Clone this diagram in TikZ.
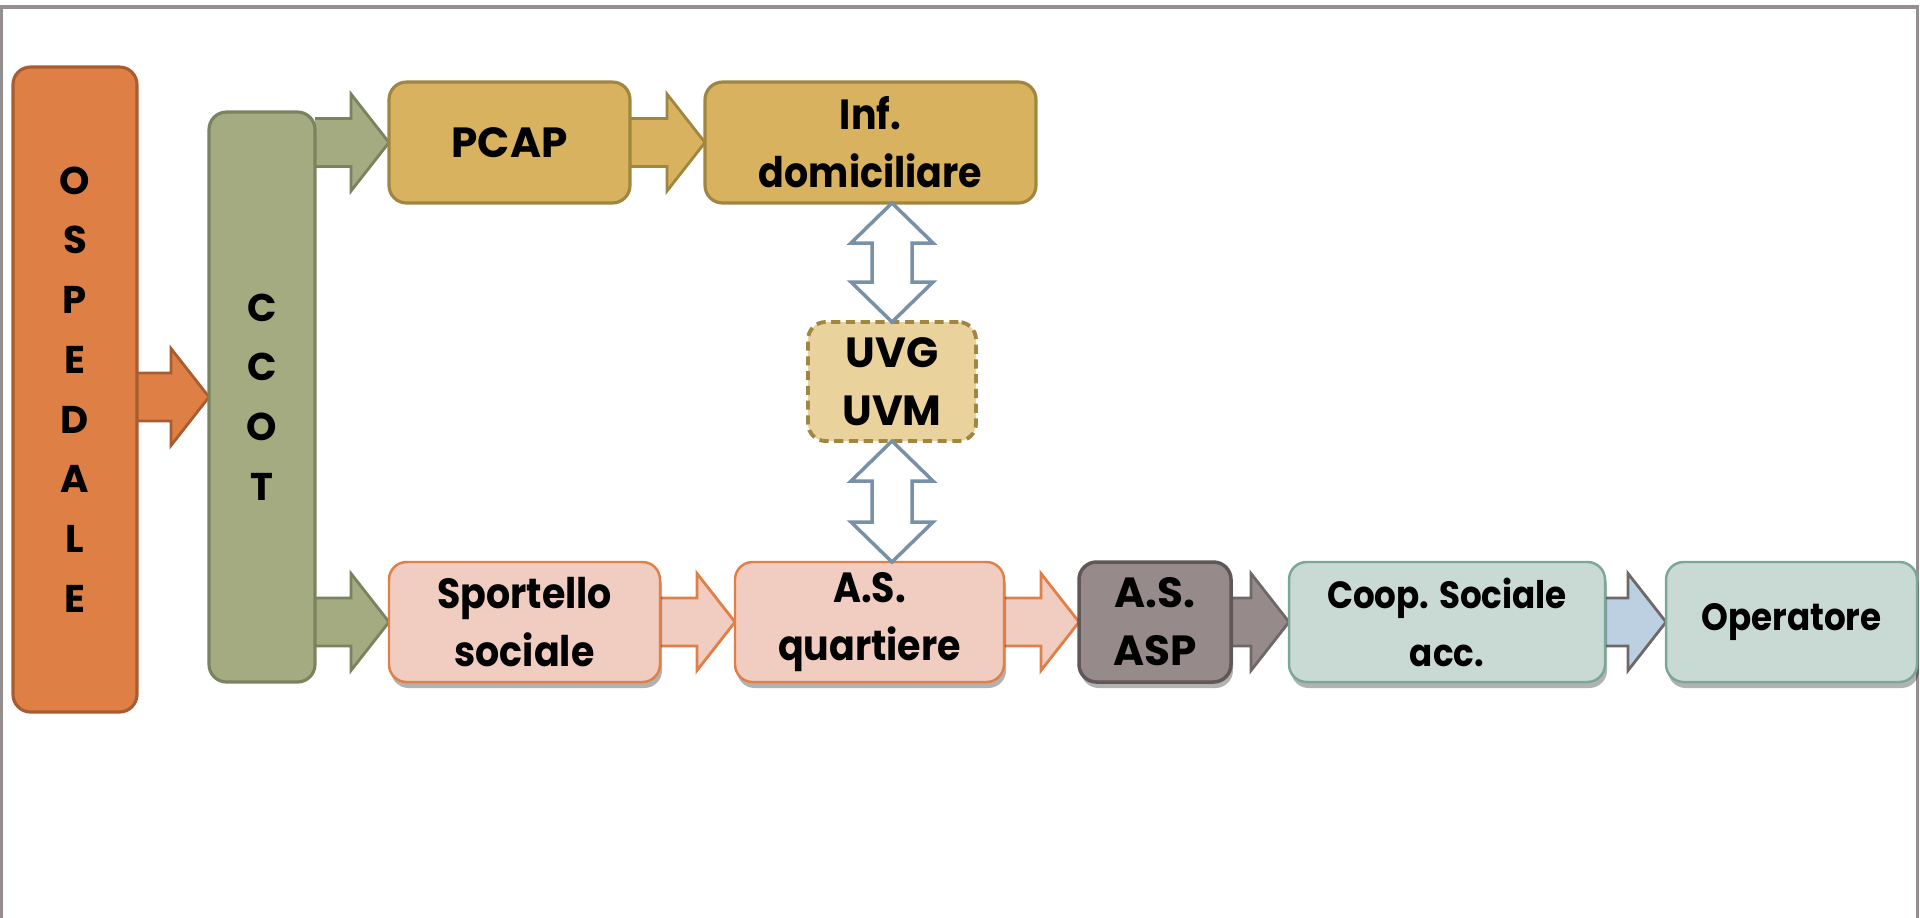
\documentclass[tikz,border=0pt]{standalone}
\usepackage{fontspec}
\setmainfont{Poppins}
\newfontfamily\stretto{Poppins}[FakeStretch=0.9]
\usetikzlibrary{positioning,calc,backgrounds,shadows}
\definecolor{arancio}{HTML}{DE7F46}
\definecolor{arancioscuro}{HTML}{A95C30}
\definecolor{salvia}{HTML}{A4AB80}
\definecolor{salviascuro}{HTML}{7A8360}
\definecolor{ocra}{HTML}{D8B25E}
\definecolor{ocrascuro}{HTML}{A08640}
\definecolor{pergamena}{HTML}{E9D29C}
\definecolor{rosa}{HTML}{F0CDC0}
\definecolor{rosabordo}{HTML}{E08048}
\definecolor{grigio}{HTML}{968B8A}
\definecolor{grigioscuro}{HTML}{5F5758}
\definecolor{acqua}{HTML}{C9DAD4}
\definecolor{acquabordo}{HTML}{7AA898}
\definecolor{celeste}{HTML}{BDD0E2}
\definecolor{acciaio}{HTML}{7890A8}
\definecolor{cornice}{HTML}{948E8E}

% freccia piena orizzontale: dal lato est di #2 al lato ovest di #3
\newcommand{\freccia}[3][]{%
  \draw[fl,#1] let \p1=(#2.east), \p2=(#3.west) in
    (\x1,{\y2+0.24cm}) -- ({\x2-0.38cm},{\y2+0.24cm}) -- ({\x2-0.38cm},{\y2+0.485cm})
    -- (\x2,\y2) -- ({\x2-0.38cm},{\y2-0.485cm}) -- ({\x2-0.38cm},{\y2-0.24cm})
    -- (\x1,{\y2-0.24cm});}
% freccia doppia verticale tra due punti
\newcommand{\doppia}[2]{%
  \draw[dbl] let \p1=(#1), \p2=(#2) in
    (\x1,\y1) -- ({\x1+0.41cm},{\y1-0.4cm}) -- ({\x1+0.2cm},{\y1-0.4cm})
    -- ({\x1+0.2cm},{\y2+0.4cm}) -- ({\x1+0.41cm},{\y2+0.4cm}) -- (\x1,\y2)
    -- ({\x1-0.41cm},{\y2+0.4cm}) -- ({\x1-0.2cm},{\y2+0.4cm})
    -- ({\x1-0.2cm},{\y1-0.4cm}) -- ({\x1-0.41cm},{\y1-0.4cm}) -- cycle;}

\begin{document}
\begin{tikzpicture}[font=\bfseries\fontsize{12}{16.5}\selectfont,
      c/.style={draw, rounded corners=5pt, align=center, line width=0.9pt, inner sep=2pt, outer sep=0pt},
      b/.style={c, line width=0.7pt, minimum height=1.20cm,
                drop shadow={shadow xshift=0.02cm, shadow yshift=-0.06cm, opacity=0.3, fill=black}},
      lett/.style={font=\bfseries\fontsize{11}{17}\selectfont},
      s/.style={font=\stretto\bfseries\fontsize{12}{16.5}\selectfont},
      ss/.style={font=\stretto\bfseries\fontsize{10.8}{16.5}\selectfont},
      fl/.style={line width=0.8pt, line join=miter},
      dbl/.style={draw=acciaio, fill=white, line width=1pt, line join=miter}]
    \useasboundingbox (0,0) rectangle (19.2,-9.17);
    \draw[cornice, line width=0.9pt] (0.015,-9.5) -- (0.015,-0.07) -- (19.175,-0.07) -- (19.175,-9.5);

    \node[c, lett, fill=arancio, draw=arancioscuro, minimum width=1.24cm, minimum height=6.45cm] (osp) at (0.75,-3.895) {O\\S\\P\\E\\D\\A\\L\\E};
    \node[c, lett, fill=salvia, draw=salviascuro, minimum width=1.06cm, minimum height=5.70cm] (ccot) at (2.62,-3.97) {C\\C\\O\\T};

    \node[c, fill=ocra, draw=ocrascuro, minimum width=2.41cm, minimum height=1.21cm, anchor=north west] (pcap) at (3.89,-0.82) {PCAP};
    \node[c, s, fill=ocra, draw=ocrascuro, minimum width=3.31cm, minimum height=1.21cm, right=0.75cm of pcap] (inf) {Inf.\\domiciliare};
    \node[c, dashed, dash pattern=on 2.6pt off 1.6pt, line width=1.1pt, fill=pergamena, draw=ocrascuro,
          minimum width=1.68cm, minimum height=1.19cm] (uvg) at (8.92,-3.815) {UVG\\UVM};

    \node[b, s, fill=rosa, draw=rosabordo, minimum width=2.71cm, anchor=north west] (sport) at (3.89,-5.62) {Sportello\\sociale};
    \node[b, s, fill=rosa, draw=rosabordo, minimum width=2.69cm, right=0.75cm of sport] (asq) {A.S.\\quartiere};
    \node[b, fill=grigio, draw=grigioscuro, line width=1pt, minimum width=1.52cm, right=0.75cm of asq] (asp) {A.S.\\ASP};
    \node[b, ss, fill=acqua, draw=acquabordo, minimum width=3.16cm, right=0.58cm of asp] (coop) {Coop. Sociale\\acc.};
    \node[b, ss, fill=acqua, draw=acquabordo, minimum width=2.51cm, right=0.61cm of coop] (oper) {Operatore};

    \begin{scope}[on background layer]
      \freccia[fill=arancio, draw=arancioscuro]{osp}{ccot}
      \freccia[fill=salvia, draw=salviascuro]{ccot}{pcap}
      \freccia[fill=salvia, draw=salviascuro]{ccot}{sport}
      \freccia[fill=ocra, draw=ocrascuro]{pcap}{inf}
      \freccia[fill=rosa, draw=rosabordo]{sport}{asq}
      \freccia[fill=rosa, draw=rosabordo]{asq}{asp}
      \freccia[fill=grigio, draw=grigioscuro!90]{asp}{coop}
      \freccia[fill=celeste, draw=grigioscuro!90]{coop}{oper}
    \end{scope}
    \doppia{inf.south -| uvg}{uvg.north}
    \doppia{uvg.south}{asq.north -| uvg}
  \end{tikzpicture}
\end{document}
